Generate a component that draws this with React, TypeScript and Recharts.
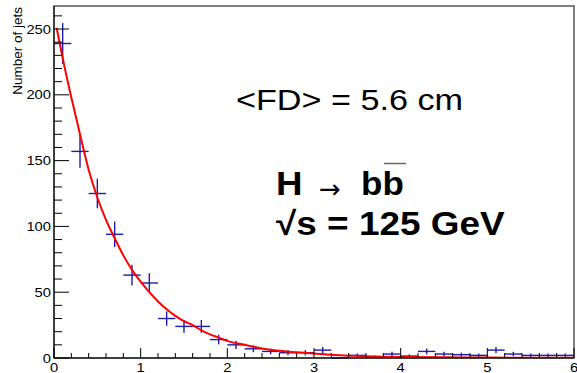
import React from 'react';
import { ComposedChart, XAxis, YAxis, Scatter, ErrorBar, Line, ReferenceArea } from 'recharts';

const binCenters = [0.1, 0.3, 0.5, 0.7, 0.9, 1.1, 1.3, 1.5, 1.7, 1.9, 2.1, 2.3, 2.5, 2.7, 2.9, 3.1, 3.3, 3.5, 3.7, 3.9, 4.1, 4.3, 4.5, 4.7, 4.9, 5.1, 5.3, 5.5, 5.7, 5.9];
const counts = [239, 157, 125, 94, 63, 57, 30, 24, 24, 14, 10, 7, 5, 4, 4, 6, 0, 2, 1, 3, 1.5, 5, 3, 2.5, 2, 6, 3, 2, 2, 2];
const countErrors = [15.5, 12.5, 11.2, 9.7, 7.9, 7.5, 5.5, 4.9, 4.9, 3.7, 3.2, 2.6, 2.2, 2, 2, 2.4, 0, 1.4, 1, 1.7, 1.2, 2.2, 1.7, 1.6, 1.4, 2.4, 1.7, 1.4, 1.4, 1.4];
const binHalfWidth = 0.1;

const fitX = [0.03, 0.1, 0.2, 0.3, 0.4, 0.5, 0.6, 0.7, 0.8, 0.9, 1.0, 1.1, 1.2, 1.3, 1.4, 1.5, 1.6, 1.7, 1.8, 1.9, 2.0, 2.2, 2.4, 2.6, 2.8, 3.0, 3.2, 3.4, 3.6, 3.8, 4.0, 4.5, 5.0, 5.5, 6.0];
const fitY = [251, 228, 198, 170, 143, 122, 105, 91, 78, 67, 58, 50, 43, 37, 32, 28, 25, 21, 18, 15.5, 13, 10, 7.3, 5.5, 4.3, 3.4, 2.4, 1.8, 1.3, 1.0, 0.8, 0.5, 0.3, 0.2, 0.15];

const xTicks = [0, 0.2, 0.4, 0.6, 0.8, 1, 1.2, 1.4, 1.6, 1.8, 2, 2.2, 2.4, 2.6, 2.8, 3, 3.2, 3.4, 3.6, 3.8, 4, 4.2, 4.4, 4.6, 4.8, 5, 5.2, 5.4, 5.6, 5.8, 6];
const xLabels = [0, 1, 2, 3, 4, 5, 6];
const yTicks = [0, 10, 20, 30, 40, 50, 60, 70, 80, 90, 100, 110, 120, 130, 140, 150, 160, 170, 180, 190, 200, 210, 220, 230, 240, 250, 260];
const yLabels = [0, 50, 100, 150, 200, 250];

const yTitle = 'Number of jets';
const meanText = '<FD> = 5.6 cm';
const processH = 'H';
const processArrow = '→';
const processBB = 'bb';
const energyText = '√s = 125 GeV';

const histData = binCenters.map((x, i) => ({ x, y: counts[i], ey: countErrors[i], ex: binHalfWidth }));
const fitData = fitX.map((x, i) => ({ x, y: fitY[i] }));

const FONT = '"Liberation Sans", Arial, Helvetica, sans-serif';
const HIST_COLOR = '#1c1ca6';

const YTick = (props: any) => {
  const { x, y, payload } = props;
  const v = payload.value;
  const major = yLabels.includes(v);
  return (
    <g>
      <line x1={x} x2={x + (major ? 15 : 8)} y1={y} y2={y} stroke="#000" strokeWidth={1} />
      {major && (
        <text transform={`translate(${x - 3},${y + 4.5}) scale(1.18,1)`} textAnchor="end" fontFamily={FONT} fontSize={12.5} fill="#000">
          {v}
        </text>
      )}
    </g>
  );
};

const XTick = (props: any) => {
  const { x, y, payload } = props;
  const v = payload.value;
  const major = xLabels.some((l) => Math.abs(l - v) < 1e-6);
  return (
    <g>
      <line x1={x} x2={x} y1={y} y2={y - (major ? 10 : 5)} stroke="#000" strokeWidth={1} />
      {major && (
        <text transform={`translate(${x},${y + 13.5}) scale(1.18,1)`} textAnchor="middle" fontFamily={FONT} fontSize={12.5} fill="#000">
          {v}
        </text>
      )}
    </g>
  );
};

export default function App() {
  return (
    <div style={{ position: 'absolute', left: 0, top: 0, width: 577, height: 373, background: '#fff' }}>
      <ComposedChart width={577} height={373} margin={{ top: 6, right: 3, bottom: 0, left: 0 }}>
        <ReferenceArea x1={0} x2={6} y1={0} y2={267.5} fill="none" stroke="#555" strokeWidth={1.5} ifOverflow="visible" />
        <XAxis
          type="number"
          dataKey="x"
          domain={[0, 6]}
          ticks={xTicks}
          interval={0}
          height={15}
          tickSize={0}
          tickMargin={0}
          tickLine={false}
          tick={<XTick />}
          axisLine={{ stroke: '#000', strokeWidth: 1 }}
          allowDataOverflow
        />
        <YAxis
          type="number"
          dataKey="y"
          domain={[0, 267.5]}
          ticks={yTicks}
          interval={0}
          width={54}
          tickSize={0}
          tickMargin={0}
          tickLine={false}
          tick={<YTick />}
          axisLine={{ stroke: '#000', strokeWidth: 1 }}
          allowDataOverflow
        />
        <Scatter data={histData} dataKey="y" shape={() => <g />} isAnimationActive={false}>
          <ErrorBar dataKey="ey" direction="y" width={0} stroke={HIST_COLOR} strokeWidth={1.4} isAnimationActive={false} />
          <ErrorBar dataKey="ex" direction="x" width={0} stroke={HIST_COLOR} strokeWidth={1.4} isAnimationActive={false} />
        </Scatter>
        <Line data={fitData} dataKey="y" type="monotone" stroke="#ff0000" strokeWidth={2} dot={false} activeDot={false} isAnimationActive={false} />
      </ComposedChart>
      <svg width={577} height={373} style={{ position: 'absolute', left: 0, top: 0, pointerEvents: 'none' }}>
        <text transform="translate(21.5,7) rotate(-90)" textAnchor="end" fontFamily={FONT} fontSize={13.5} fill="#000">
          {yTitle}
        </text>
        <text transform="translate(236,110) scale(1.14,1)" fontFamily={FONT} fontSize={30} fill="#000">
          {meanText}
        </text>
        <text transform="translate(276,195) scale(1.08,1)" fontFamily={FONT} fontSize={34} fontWeight="bold" fill="#000">
          {processH}
        </text>
        <text x={319} y={198} fontFamily={'"DejaVu Sans", sans-serif'} fontSize={26} fill="#000">
          {processArrow}
        </text>
        <text transform="translate(361,195) scale(1.03,1)" fontFamily={FONT} fontSize={34} fontWeight="bold" fill="#000">
          {processBB}
        </text>
        <line x1={384} x2={406} y1={163.5} y2={163.5} stroke="#666" strokeWidth={1.5} />
        <text transform="translate(276,235) scale(1.12,1)" fontFamily={FONT} fontSize={33} fontWeight="bold" fill="#000">
          {energyText}
        </text>
      </svg>
    </div>
  );
}
